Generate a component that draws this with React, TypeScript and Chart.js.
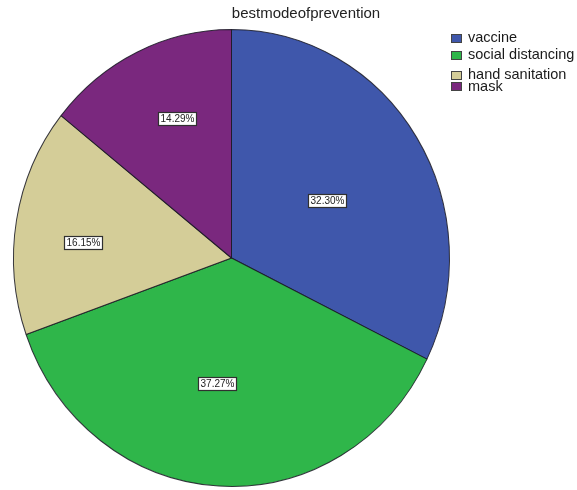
import { useEffect, useRef } from "react";
import { Chart, registerables } from "chart.js";

Chart.register(...registerables);

const chartTitle = "bestmodeofprevention";
const categories = ["vaccine", "social distancing", "hand sanitation", "mask"];
const counts = [52, 60, 26, 23];
const sliceColors = ["#3F57AB", "#2FB64A", "#D4CD98", "#7A287E"];

const total = counts.reduce((a, b) => a + b, 0);
const percentLabels = counts.map((c) => ((c / total) * 100).toFixed(2) + "%");

// vertical stretch of the pie (drawn slightly taller than wide)
const Y_STRETCH = 1.048;
// where each percentage box sits, as a fraction of the radius, plus a small angular nudge (deg)
const labelRadius = [0.508, 0.554, 0.683, 0.658];
const labelNudge = [1.9, 3.5, -3.8, 3.6];
// legend row centres (px from top)
const legendRows = [37.5, 54.5, 74.5, 86];

const FONT = '"Liberation Sans", Arial, sans-serif';

const stretchPlugin = {
  id: "stretchPie",
  beforeDatasetsDraw(chart: any) {
    const ctx = chart.ctx;
    const arc = chart.getDatasetMeta(0).data[0];
    if (!arc) return;
    ctx.save();
    ctx.translate(arc.x, arc.y);
    ctx.scale(1, Y_STRETCH);
    ctx.translate(-arc.x, -arc.y);
  },
  afterDatasetsDraw(chart: any) {
    chart.ctx.restore();
  },
};

const decorPlugin = {
  id: "pieDecor",
  afterDraw(chart: any) {
    const ctx: CanvasRenderingContext2D = chart.ctx;
    const meta = chart.getDatasetMeta(0);

    // percentage boxes
    ctx.save();
    ctx.font = `10px ${FONT}`;
    ctx.textAlign = "center";
    ctx.textBaseline = "middle";
    meta.data.forEach((arc: any, i: number) => {
      const mid = (arc.startAngle + arc.endAngle) / 2 + (labelNudge[i] * Math.PI) / 180;
      const r = arc.outerRadius * labelRadius[i];
      const x = arc.x + Math.cos(mid) * r;
      const y = arc.y + Math.sin(mid) * r * Y_STRETCH;
      const text = percentLabels[i];
      const w = Math.round(ctx.measureText(text).width) + 4;
      const h = 13;
      const bx = Math.round(x - w / 2) + 0.5;
      const by = Math.round(y - h / 2) + 0.5;
      ctx.fillStyle = "#ffffff";
      ctx.fillRect(bx, by, w, h);
      ctx.strokeStyle = "#303030";
      ctx.lineWidth = 1.2;
      ctx.strokeRect(bx, by, w, h);
      ctx.fillStyle = "#222222";
      ctx.fillText(text, bx + w / 2, by + h / 2 + 0.5);
    });
    ctx.restore();

    // title
    ctx.save();
    ctx.font = `15px ${FONT}`;
    ctx.fillStyle = "#222222";
    ctx.textAlign = "center";
    ctx.textBaseline = "middle";
    ctx.fillText(chartTitle, 306, 14);
    ctx.restore();

    // legend
    ctx.save();
    ctx.font = `14.5px ${FONT}`;
    ctx.textAlign = "left";
    ctx.textBaseline = "middle";
    categories.forEach((name, i) => {
      const cy = legendRows[i];
      const sy = Math.round(cy - 4) + 0.5;
      ctx.fillStyle = sliceColors[i];
      ctx.fillRect(451.5, sy, 10, 8);
      ctx.strokeStyle = "#444444";
      ctx.lineWidth = 1;
      ctx.strokeRect(451.5, sy, 10, 8);
      ctx.fillStyle = "#1a1a1a";
      ctx.fillText(name, 468, cy + 0.5);
    });
    ctx.restore();
  },
};

export default function App() {
  const canvasRef = useRef<HTMLCanvasElement | null>(null);

  useEffect(() => {
    const canvas = canvasRef.current;
    if (!canvas) return;
    const chart = new Chart(canvas, {
      type: "pie",
      data: {
        labels: categories,
        datasets: [
          {
            data: counts,
            backgroundColor: sliceColors,
            borderColor: "rgba(25,25,35,0.85)",
            borderWidth: 1,
          },
        ],
      },
      options: {
        animation: false,
        responsive: true,
        maintainAspectRatio: false,
        layout: { padding: { left: 13, right: 127, top: 39.5, bottom: 13.5 } },
        plugins: {
          legend: { display: false },
          title: { display: false },
          tooltip: { enabled: false },
        },
      },
      plugins: [stretchPlugin, decorPlugin],
    });
    return () => chart.destroy();
  }, []);

  return (
    <div
      style={{
        position: "fixed",
        left: 0,
        top: 0,
        width: 577,
        height: 490,
        background: "#ffffff",
      }}
    >
      <canvas ref={canvasRef} />
    </div>
  );
}
